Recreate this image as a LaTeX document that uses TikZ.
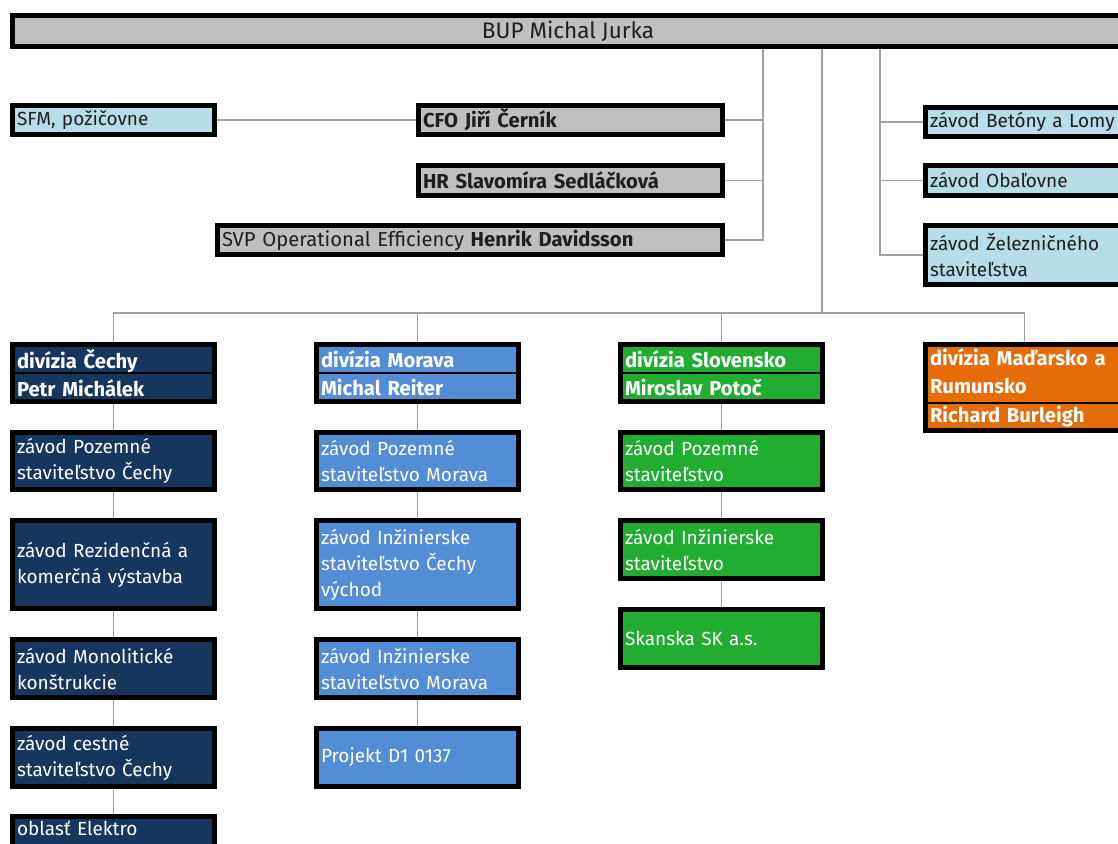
\documentclass[tikz,border=0pt]{standalone}
\usepackage{fontspec}
\setmainfont{Fira Sans}
\usetikzlibrary{backgrounds}

\definecolor{boxgray}{HTML}{BFBFBF}
\definecolor{paleblue}{HTML}{B7DEE8}
\definecolor{navyfill}{HTML}{17365D}
\definecolor{midblue}{HTML}{538DD5}
\definecolor{divgreen}{HTML}{21AD31}
\definecolor{divorange}{HTML}{E46C0A}
\definecolor{linkgray}{HTML}{A0A0A0}
\definecolor{inkdark}{HTML}{1E1E1E}

\begin{document}
\begin{tikzpicture}[x=1pt,y=-1pt,
  box/.style={draw=black, line width=5pt, anchor=north west,
    inner xsep=4.5pt, inner ysep=0pt, align=left,
    font=\fontsize{19}{26}\selectfont},
  graybox/.style={box, fill=boxgray, text=inkdark, font=\fontsize{20.2}{26}\selectfont},
  palebox/.style={box, fill=paleblue, text=inkdark},
  navybox/.style={box, fill=navyfill, text=white},
  bluebox/.style={box, fill=midblue, text=white},
  greenbox/.style={box, fill=divgreen, text=white},
  orangebox/.style={box, fill=divorange, text=white},
  divhead/.style={font=\fontsize{20.2}{27.5}\selectfont\bfseries},
  rowsep/.style={draw=black, line width=2pt},
  link/.style={draw=linkgray, line width=1.3pt}]

\useasboundingbox (0,0) rectangle (1118,843);
\clip (0,0) rectangle (1118,843);

% top management bar
\node[graybox, align=center, minimum width=1111, minimum height=31,
      font=\fontsize{22.5}{26}\selectfont] (bup) at (10,13) {BUP Michal Jurka};

% staff functions on the left
\node[palebox, text width=193, minimum width=202, minimum height=29] (sfm) at (10,103) {SFM, požičovne};
\node[graybox, text width=295, minimum width=304, minimum height=29] (cfo) at (416,103) {\bfseries CFO Jiří Černík};
\node[graybox, text width=295, minimum width=304, minimum height=30] (hr) at (416,163) {\bfseries HR Slavomíra Sedláčková};
\node[graybox, text width=496, minimum width=505, minimum height=29] (svp) at (215,223) {SVP Operational Efficiency \textbf{Henrik Davidsson}};

% plants on the right
\node[palebox, text width=189, minimum width=198, minimum height=29] (bet) at (923,105) {závod Betóny a Lomy};
\node[palebox, text width=189, minimum width=198, minimum height=30] (oba) at (923,163) {závod Obaľovne};
\node[palebox, text width=189, minimum width=198, minimum height=59] (zel) at (923,223) {závod Železničného\\staviteľstva};

% divisions
\node[navybox, divhead, text width=193, minimum width=202, minimum height=57] (divC) at (10,342) {divízia Čechy\\Petr Michálek};
\node[bluebox, divhead, text width=193, minimum width=202, minimum height=57] (divM) at (314,342) {divízia Morava\\Michal Reiter};
\node[greenbox, divhead, text width=193, minimum width=202, minimum height=57] (divS) at (618,342) {divízia Slovensko\\Miroslav Potoč};
\node[orangebox, divhead, text width=189, minimum width=198, minimum height=86,
      font=\fontsize{20.2}{28.5}\selectfont\bfseries] (divH) at (923,342) {divízia Maďarsko a\\Rumunsko\\Richard Burleigh};

\coordinate (rowA) at (0,373);
\coordinate (rowB) at (0,403);
\draw[rowsep] (divC.west |- rowA) -- (divC.east |- rowA);
\draw[rowsep] (divM.west |- rowA) -- (divM.east |- rowA);
\draw[rowsep] (divS.west |- rowA) -- (divS.east |- rowA);
\draw[rowsep] (divH.west |- rowB) -- (divH.east |- rowB);

% division Čechy
\node[navybox, text width=193, minimum width=202, minimum height=57] (c1) at (10,430) {závod Pozemné\\staviteľstvo Čechy};
\node[navybox, text width=193, minimum width=202, minimum height=88] (c2) at (10,518) {závod Rezidenčná a\\komerčná výstavba};
\node[navybox, text width=193, minimum width=202, minimum height=58] (c3) at (10,637) {závod Monolitické\\konštrukcie};
\node[navybox, text width=193, minimum width=202, minimum height=58] (c4) at (10,726) {závod cestné\\staviteľstvo Čechy};
\node[navybox, text width=193, minimum width=202, minimum height=58] (c5) at (10,814) {oblasť Elektro\\\strut};

% division Morava
\node[bluebox, text width=193, minimum width=202, minimum height=57] (m1) at (314,430) {závod Pozemné\\staviteľstvo Morava};
\node[bluebox, text width=193, minimum width=202, minimum height=88] (m2) at (314,518) {závod Inžinierske\\staviteľstvo Čechy\\východ};
\node[bluebox, text width=193, minimum width=202, minimum height=58] (m3) at (314,637) {závod Inžinierske\\staviteľstvo Morava};
\node[bluebox, text width=193, minimum width=202, minimum height=58] (m4) at (314,726) {Projekt D1 0137};

% division Slovensko
\node[greenbox, text width=193, minimum width=202, minimum height=57] (s1) at (618,430) {závod Pozemné\\staviteľstvo};
\node[greenbox, text width=193, minimum width=202, minimum height=58] (s2) at (618,518) {závod Inžinierske\\staviteľstvo};
\node[greenbox, text width=193, minimum width=202, minimum height=58] (s3) at (618,607) {Skanska SK a.s.};

% connectors, kept behind the boxes
\begin{scope}[on background layer]
  \coordinate (spL) at (763,0);
  \coordinate (spC) at (822,0);
  \coordinate (spR) at (880,0);
  \coordinate (bus) at (0,313);

  \draw[link] (bup.south -| spL) |- (svp.east);
  \draw[link] (cfo.east) -- (cfo.east -| spL);
  \draw[link] (hr.east) -- (hr.east -| spL);
  \draw[link] (sfm.east) -- (cfo.west);

  \draw[link] (bup.south -| spR) |- (zel.west);
  \draw[link] (bet.west) -- (bet.west -| spR);
  \draw[link] (oba.west) -- (oba.west -| spR);

  \draw[link] (bup.south -| spC) -- (spC |- bus);
  \draw[link] (divC.north) -- (divC.north |- bus) -| (divH.north);
  \draw[link] (divM.north) -- (divM.north |- bus);
  \draw[link] (divS.north) -- (divS.north |- bus);

  \draw[link] (divC.south) -- (c1.north);
  \draw[link] (c1.south) -- (c2.north);
  \draw[link] (c2.south) -- (c3.north);
  \draw[link] (c3.south) -- (c4.north);
  \draw[link] (c4.south) -- (c5.north);

  \draw[link] (divM.south) -- (m1.north);
  \draw[link] (m1.south) -- (m2.north);
  \draw[link] (m2.south) -- (m3.north);
  \draw[link] (m3.south) -- (m4.north);

  \draw[link] (divS.south) -- (s1.north);
  \draw[link] (s1.south) -- (s2.north);
  \draw[link] (s2.south) -- (s3.north);
\end{scope}
\end{tikzpicture}
\end{document}
